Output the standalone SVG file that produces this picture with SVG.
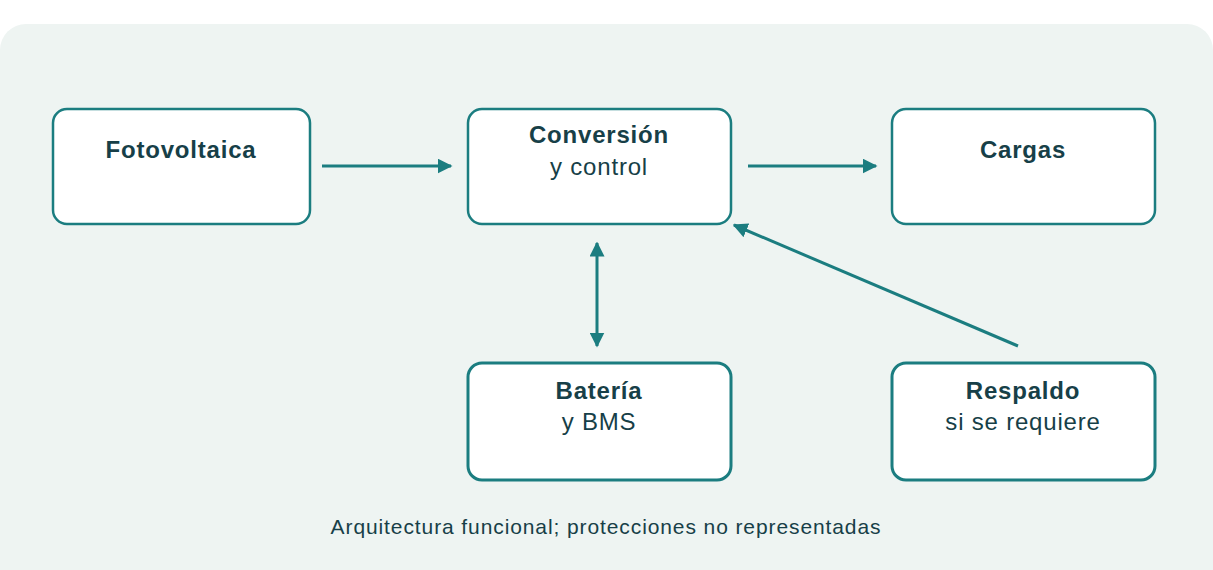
<svg xmlns="http://www.w3.org/2000/svg" width="1213" height="570" viewBox="0 0 1213 570">
<style>
.box{fill:#fff;stroke:#1b7d80;stroke-width:2.5}
.box2{fill:#fff;stroke:#1b7d80;stroke-width:3}
.t{font-family:"Liberation Sans",Arial,sans-serif;font-size:24px;letter-spacing:0.8px;fill:#173f48;text-anchor:middle}
.b{font-weight:bold}
.c{stroke:#1b7d80;stroke-width:3;fill:none}
</style>
<defs>
<marker id="a" viewBox="0 0 10 10" refX="9" refY="5" markerWidth="5" markerHeight="5" orient="auto-start-reverse"><path d="M0,0L10,5L0,10z" fill="#1b7d80"/></marker>
</defs>
<rect x="0" y="24" width="1213" height="570" rx="26" fill="#eef4f2"/>
<g id="n1"><rect class="box" x="53" y="109" width="257" height="115" rx="14"/><text class="t b" x="181" y="158">Fotovoltaica</text></g>
<g id="n2"><rect class="box" x="468" y="109" width="263" height="115" rx="14"/><text class="t b" x="599" y="143">Conversión</text><text class="t" x="599" y="175">y control</text></g>
<g id="n3"><rect class="box" x="892" y="109" width="263" height="115" rx="14"/><text class="t b" x="1023" y="158">Cargas</text></g>
<g id="n4"><rect class="box2" x="468" y="363" width="263" height="117" rx="14"/><text class="t b" x="599" y="399">Batería</text><text class="t" x="599" y="430">y BMS</text></g>
<g id="n5"><rect class="box2" x="892" y="363" width="263" height="117" rx="14"/><text class="t b" x="1023" y="399">Respaldo</text><text class="t" x="1023" y="430">si se requiere</text></g>
<g id="connectors">
<line class="c" x1="322" y1="166" x2="451" y2="166" marker-end="url(#a)"/>
<line class="c" x1="748" y1="166" x2="876" y2="166" marker-end="url(#a)"/>
<line class="c" x1="597" y1="243" x2="597" y2="346" marker-start="url(#a)" marker-end="url(#a)"/>
<line class="c" x1="1018" y1="346" x2="734" y2="225" marker-end="url(#a)"/>
</g>
<text x="606" y="534" font-family="Liberation Sans,Arial,sans-serif" font-size="21" letter-spacing="0.9" fill="#173f48" text-anchor="middle">Arquitectura funcional; protecciones no representadas</text>
</svg>
